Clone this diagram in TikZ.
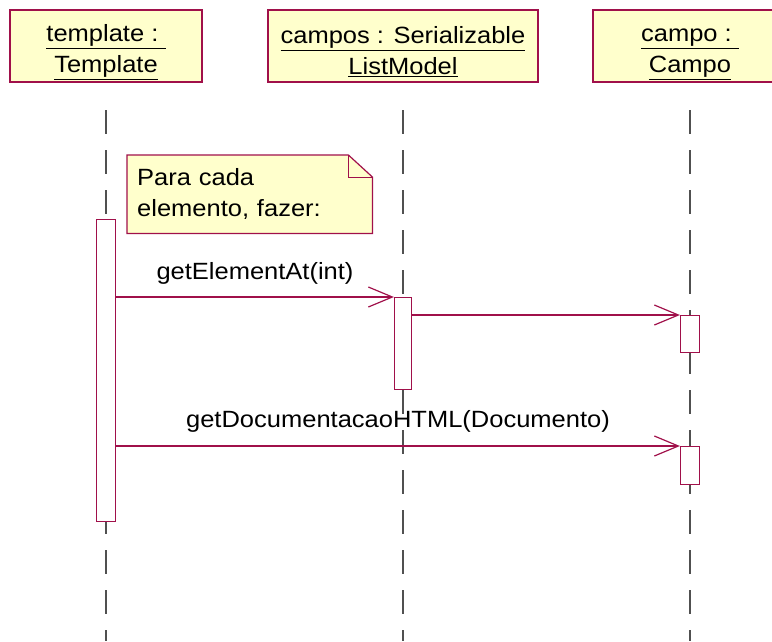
\documentclass[tikz,border=0pt]{standalone}
\usepackage{fontspec}
\setmainfont{Liberation Sans}[FakeStretch=1.085]
\usetikzlibrary{arrows.meta,positioning,backgrounds}
\definecolor{umlline}{HTML}{A0104A}
\definecolor{umlfill}{HTML}{FFFFCC}
\definecolor{lifegray}{HTML}{505050}
\newcommand{\objstrut}{\rule{0pt}{29pt}}

\begin{document}
\begin{tikzpicture}[x=1pt,y=-1pt,
    obj/.style={draw=umlline,fill=umlfill,line width=1.2pt,align=center,inner sep=0pt,minimum height=72pt},
    act/.style={draw=umlline,fill=white,line width=1.2pt,inner sep=0pt,minimum width=19pt,anchor=north},
    msg/.style={draw=umlline,line width=1.2pt,-{Straight Barb[length=24pt,width=20pt]}},
    lifeline/.style={draw=lifegray,line width=1.3pt,dash pattern=on 24pt off 16pt},
    notebox/.style={draw=umlline,fill=umlfill,line width=1.2pt},
    font=\fontsize{23.5}{31}\selectfont]
  \useasboundingbox (0,0) rectangle (772,641);
  % objects
  \node[obj,minimum width=192pt] (tpl) at (106,46) {\objstrut\underline{template :\ }\\\underline{Template}};
  \node[obj,minimum width=270pt] (lst) at (403,46) {\objstrut\underline{campos : Serializable}\\\underline{ListModel}};
  \node[obj,minimum width=194pt] (cmp) at (690,46) {\objstrut\underline{campo :\ }\\\underline{Campo}};
  % lifelines
  \coordinate (tpltop) at (106,110);
  \coordinate (lsttop) at (403,110);
  \coordinate (cmptop) at (690,110);
  \draw[lifeline] (tpltop) -- (tpltop |- 0,641);
  \draw[lifeline] (lsttop) -- (lsttop |- 0,641);
  \draw[lifeline] (cmptop) -- (cmptop |- 0,641);
  % note
  \node[anchor=north west,minimum height=78pt,inner xsep=10pt,inner ysep=0pt,align=left,text width=225pt] (note) at (127,155) {Para cada\\elemento, fazer:};
  \begin{scope}[on background layer]
    \draw[notebox] (note.north west) -- ([xshift=-24pt]note.north east) -- ([yshift=-22pt]note.north east)
      -- (note.south east) -- (note.south west) -- cycle;
    \draw[draw=umlline,line width=1pt] ([xshift=-24pt]note.north east) |- ([yshift=-22pt]note.north east);
  \end{scope}
  % activations
  \node[act,minimum height=302pt] (a1) at (106,219) {};
  \node[act,minimum width=17pt,minimum height=92pt] (a2) at (403,297) {};
  \node[act,minimum height=37pt] (a3) at (690,315) {};
  \node[act,minimum height=38pt] (a4) at (690,446) {};
  % messages
  \draw[msg] (a1.east |- a2.north west) -- node[above=12pt,inner sep=0pt]{getElementAt(int)} (a2.north west);
  \draw[msg] (a2.east |- a3.north west) -- (a3.north west);
  \draw[msg] (a1.east |- a4.north west) -- node[above=13pt,inner sep=0pt]{getDocumentacaoHTML(Documento)} (a4.north west);
\end{tikzpicture}
\end{document}
